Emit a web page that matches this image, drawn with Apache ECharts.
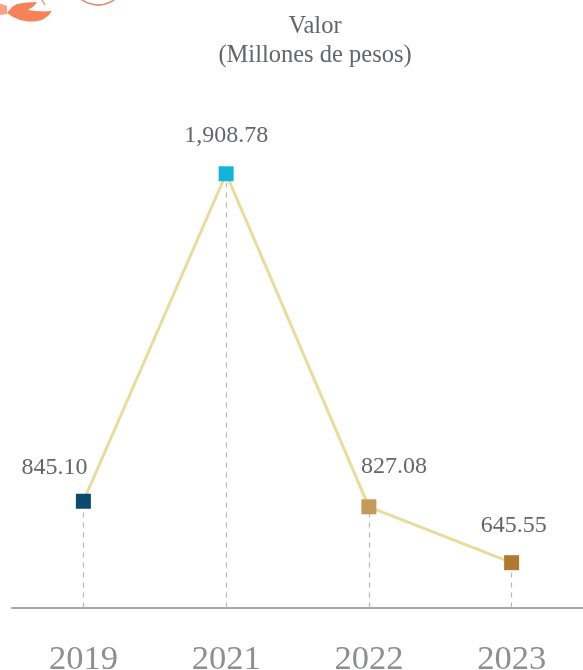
<!DOCTYPE html>
<html><head><meta charset="utf-8">
<style>html,body{margin:0;padding:0;background:#fff}#c{width:583px;height:670px}</style>
<script src="https://cdn.jsdelivr.net/npm/echarts@6/dist/echarts.min.js"></script>
</head><body><div id="c"></div>
<script>
const categories = ['2019','2021','2022','2023'];
const values = [845.10,1908.78,827.08,645.55];
const valueLabels = ['845.10','1,908.78','827.08','645.55'];
const markerColors = ['#0b4a6f','#12b5d9','#c49a5c','#b27a2e'];
const labelOffsets = [[-29,-9],[0,-14],[25,-16],[2,-12]];
const axisMin = 500, axisMax = 2150;
const FONT = '"Liberation Serif", serif';
const chart = echarts.init(document.getElementById('c'),null,{renderer:'canvas'});
chart.setOption({
  animation:false,
  backgroundColor:'#fff',
  title:{text:'Valor\n(Millones de pesos)',left:310,top:7,textAlign:'center',
    textStyle:{fontFamily:FONT,fontSize:24.5,fontWeight:'normal',color:'#63656a',lineHeight:29}},
  grid:{left:12,right:0,top:99.5,height:508,outerBoundsMode:'none'},
  xAxis:{type:'category',data:categories,boundaryGap:true,
    axisLine:{lineStyle:{color:'#a7a8aa',width:2}},axisTick:{show:false},
    axisLabel:{fontFamily:FONT,fontSize:34.5,color:'#8c8e93',margin:35,interval:0,verticalAlign:'top'},splitLine:{show:false}},
  yAxis:{type:'value',min:axisMin,max:axisMax,show:false,splitLine:{show:false}},
  graphic:[
    {type:'polygon',shape:{points:[[7,13],[12,7],[17,4],[27,2.5],[37,2],[34,6],[28,10],[36,11],[44,11.5],[52,11],[48,16],[42,20],[35,21.5],[28,21.5],[20,20],[13,17]]},style:{fill:'#f58357'},silent:true},
    {type:'polygon',shape:{points:[[0,3.5],[7,6],[7,14],[0,15]]},style:{fill:'#f9a184'},silent:true},
    {type:'line',shape:{x1:42,y1:0,x2:45,y2:5},style:{stroke:'#f58357',lineWidth:1.2},silent:true},
    {type:'arc',shape:{cx:98,cy:-22,r:27,startAngle:0.35,endAngle:Math.PI-0.35},style:{stroke:'#e08a70',lineWidth:1.6,fill:null},silent:true}
  ],
  series:[{
    type:'line',
    data:values.map((v,i)=>({value:v,
      itemStyle:{color:markerColors[i]},
      label:{show:true,position:'top',offset:labelOffsets[i],formatter:valueLabels[i]}})),
    symbol:'rect',symbolSize:15,showSymbol:true,
    lineStyle:{color:'#e8dc9a',width:3},
    label:{fontFamily:FONT,fontSize:24,color:'#63656a'},
    markLine:{silent:true,symbol:'none',z:1,label:{show:false},
      lineStyle:{color:'#b5b6b8',type:[5,5],width:1.2},
      data:categories.map((c,i)=>[{xAxis:c,yAxis:axisMin},{xAxis:c,yAxis:values[i]}])},
    z:3
  }]
});
</script></body></html>
